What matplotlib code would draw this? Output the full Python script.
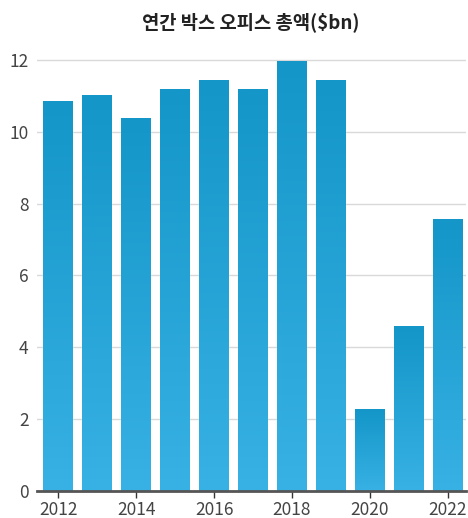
import numpy as np
import matplotlib.pyplot as plt
from matplotlib.colors import LinearSegmentedColormap

plt.rcParams['font.family'] = ['Noto Sans CJK KR', 'DejaVu Sans']

# Data
years = [2012, 2013, 2014, 2015, 2016, 2017, 2018, 2019, 2020, 2021, 2022]
box_office = [10.83, 11.0, 10.38, 11.19, 11.44, 11.19, 11.97, 11.44, 2.28, 4.59, 7.57]
title = '연간 박스 오피스 총액($bn)'

fig = plt.figure(figsize=(4.68, 5.18), dpi=100)
ax = fig.add_axes([37 / 468, 27 / 518, 429 / 468, 449 / 518])

# gradient bars: darker at top, lighter at bottom
cmap = LinearSegmentedColormap.from_list('bar', ['#38b1e4', '#1496c8'])
grad = np.linspace(0, 1, 256).reshape(-1, 1)
width = 0.77
for x, v in zip(years, box_office):
    ax.imshow(grad, extent=[x - width / 2, x + width / 2, 0, v], origin='lower',
              aspect='auto', cmap=cmap, zorder=2)

ax.set_xlim(2012 - 0.55, 2022 + 0.47)
ax.set_ylim(0, 12.5)

ax.set_yticks(range(0, 13, 2))
ax.set_xticks(range(2012, 2023, 2))
ax.grid(axis='y', color='#d9d9d9', linewidth=1, zorder=0)
ax.set_axisbelow(True)

for s in ['top', 'right', 'left']:
    ax.spines[s].set_visible(False)
ax.spines['bottom'].set_color('#555555')
ax.spines['bottom'].set_linewidth(2)
ax.spines['bottom'].set_zorder(3)

ax.tick_params(axis='y', length=0, pad=6, labelsize=12.5, labelcolor='#444444')
ax.tick_params(axis='x', length=5, width=1, color='#333333', pad=2,
               labelsize=12.5, labelcolor='#444444')

fig.text(251 / 468, 1 - 22 / 518, title, ha='center', va='center', fontsize=13.5,
         fontweight='bold', color='#222222')

fig.savefig('out.png', dpi=100)
